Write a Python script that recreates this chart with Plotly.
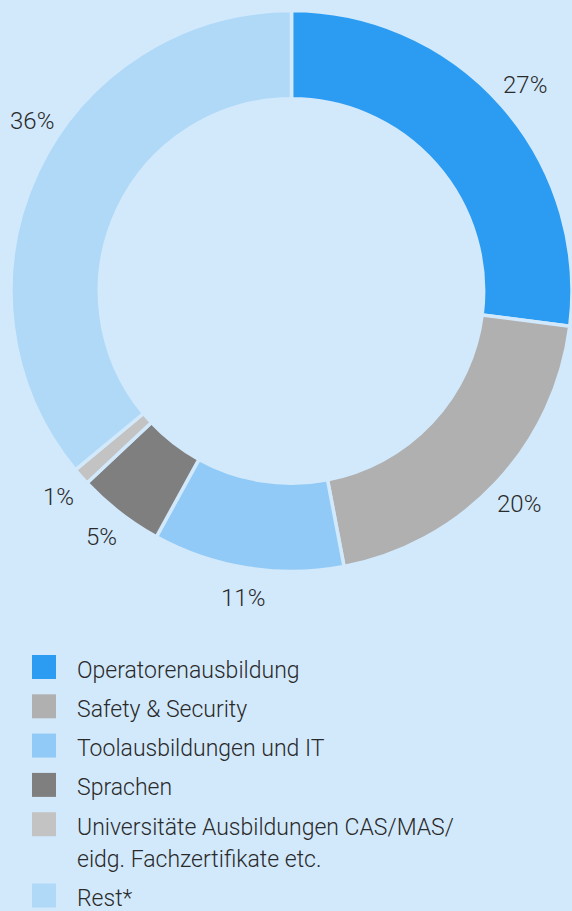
import math
import plotly.graph_objects as go

# -------------------- DATA --------------------
categories = [
    "Operatorenausbildung",
    "Safety & Security",
    "Toolausbildungen und IT",
    "Sprachen",
    "Universitäte Ausbildungen CAS/MAS/<br>eidg. Fachzertifikate etc.",
    "Rest*",
]
values = [27, 20, 11, 5, 1, 36]
colors = ["#2b9cf1", "#b0b0b0", "#91caf6", "#7f7f7f", "#c3c3c3", "#b0d9f8"]

# -------------------- LAYOUT CONSTANTS --------------------
W, H = 572, 911
BG = "#d2e9fc"
TXT = "#2a2a2a"
FONT = "Roboto"

CX, CY, R = 292, 291, 281          # pie centre / radius in px
LABEL_R = 311                       # radius of the percent labels
LABEL_SHIFT = {"Rest*": -8}         # degrees, keeps the big label inside the page
LEG_X, LEG_Y0, LEG_STEP, LEG_LINE = 32, 655, 39.3, 32
SQ = 24


def px_x(x):
    return min(max(x / W, 0), 1)


def px_y(y):
    return min(max(1 - y / H, 0), 1)


fig = go.Figure()

fig.add_trace(go.Pie(
    labels=categories,
    values=values,
    sort=False,
    direction="clockwise",
    rotation=0,
    hole=0.685,
    marker=dict(colors=colors, line=dict(color=BG, width=3.5)),
    textinfo="none",
    hoverinfo="label+percent",
    showlegend=False,
    domain=dict(x=[px_x(CX - R), 1], y=[px_y(CY + R), px_y(CY - R)]),
))

annotations = []
shapes = []

# percent labels around the ring
total = sum(values)
cum = 0
for name, v in zip(categories, values):
    mid = 90 - (cum + v / 2) / total * 360 + LABEL_SHIFT.get(name, 0)
    cum += v
    a = math.radians(mid)
    x = CX + LABEL_R * math.cos(a)
    y = CY - LABEL_R * math.sin(a)
    annotations.append(dict(
        x=px_x(x), y=px_y(y), xref="paper", yref="paper",
        text=f"{round(v / total * 100)}%", showarrow=False,
        xanchor="center", yanchor="middle",
        font=dict(family=FONT, size=24, color=TXT, weight=300),
    ))

# hand-made legend (big squares)
top = LEG_Y0
for name, col in zip(categories, colors):
    shapes.append(dict(
        type="rect", xref="paper", yref="paper",
        x0=px_x(LEG_X), x1=px_x(LEG_X + SQ),
        y0=px_y(top + SQ), y1=px_y(top),
        fillcolor=col, line=dict(width=0),
    ))
    for i, line in enumerate(name.split("<br>")):
        annotations.append(dict(
            x=px_x(75), y=px_y(top + SQ / 2 + 3 + i * LEG_LINE),
            xref="paper", yref="paper",
            text=line, showarrow=False, align="left",
            xanchor="left", yanchor="middle",
            font=dict(family=FONT, size=23, color=TXT, weight=300),
        ))
    top += LEG_STEP + (LEG_LINE if "<br>" in name else 0)

fig.update_layout(
    width=W, height=H,
    paper_bgcolor=BG, plot_bgcolor=BG,
    margin=dict(l=0, r=0, t=0, b=0),
    annotations=annotations,
    shapes=shapes,
)

fig.write_html(
    "out.html",
    config={"displayModeBar": False},
    post_script="document.body.style.margin='0';document.body.style.background='%s';" % BG,
)
